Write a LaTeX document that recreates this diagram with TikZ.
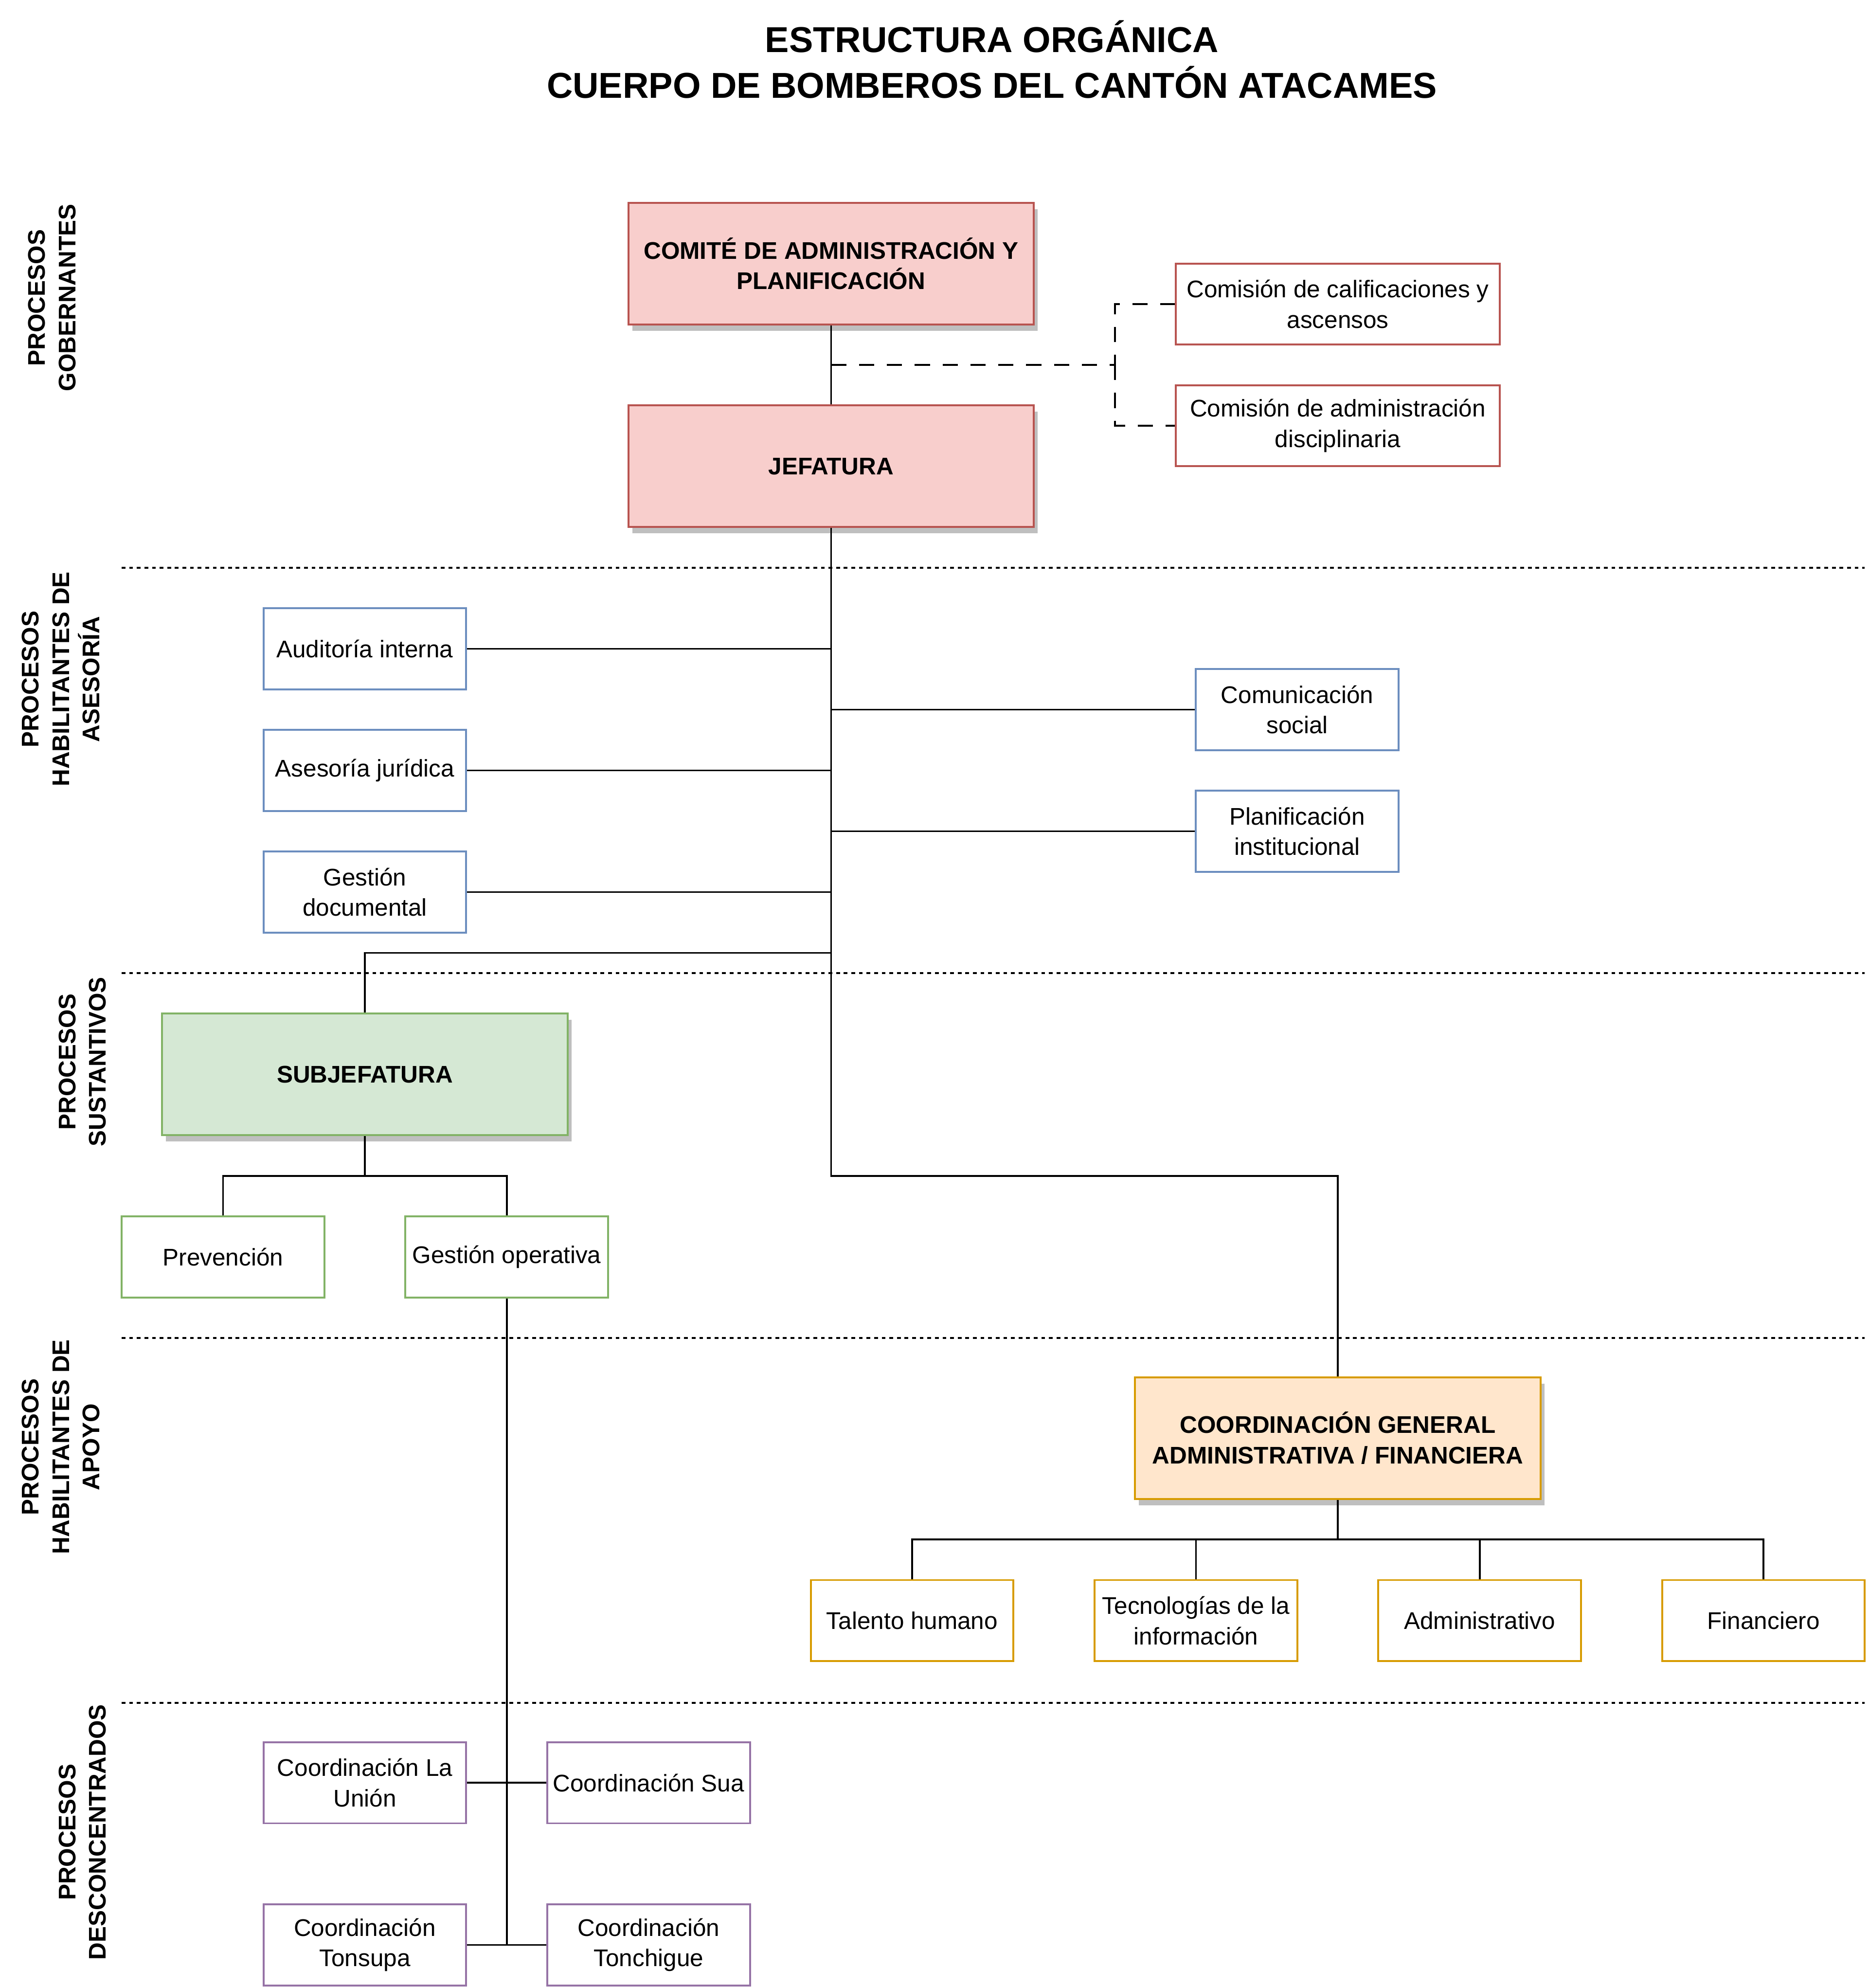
\documentclass[tikz,border=0pt]{standalone}
\usepackage{fontspec}
\setmainfont{Liberation Sans}
\usetikzlibrary{shadows}
\definecolor{redline}{HTML}{B85450}
\definecolor{redfill}{HTML}{F8CECC}
\definecolor{blueline}{HTML}{6C8EBF}
\definecolor{greenline}{HTML}{82B366}
\definecolor{greenfill}{HTML}{D5E8D4}
\definecolor{orangeline}{HTML}{D79B00}
\definecolor{orangefill}{HTML}{FFE6CC}
\definecolor{purpleline}{HTML}{9673A6}
\begin{document}
\begin{tikzpicture}[x=1pt,y=-1pt,
  box/.style={draw,line width=1.5pt,fill=white,minimum width=160pt,minimum height=64pt,inner sep=0pt,align=center,font=\fontsize{19}{24}\selectfont},
  bigbox/.style={box,minimum width=320pt,minimum height=96pt,font=\fontsize{19}{24}\selectfont\bfseries,
    drop shadow={shadow xshift=3pt,shadow yshift=-5pt,fill=black!25,opacity=1}},
  link/.style={line width=1.4pt},
  sep/.style={line width=1.6pt,dash pattern=on 3pt off 3pt},
  side/.style={rotate=90,align=center,font=\fontsize{19}{24}\selectfont\bfseries}]
\useasboundingbox (0,0) rectangle (1475,1569);

% title
\node[align=center,font=\fontsize{28.4}{36}\selectfont\bfseries] (title) at (783,47)
  {ESTRUCTURA ORGÁNICA\\CUERPO DE BOMBEROS DEL CANTÓN ATACAMES};

% process bands
\foreach \y in {448,768,1056,1344}
  \draw[sep] (96,\y) -- (1472,\y);
\node[side] (gob) at (41,235) {PROCESOS\\GOBERNANTES};
\node[side] (ase) at (48,536) {PROCESOS\\HABILITANTES DE\\ASESORÍA};
\node[side] (sus) at (65,838) {PROCESOS\\SUSTANTIVOS};
\node[side] (apo) at (48,1142) {PROCESOS\\HABILITANTES DE\\APOYO};
\node[side] (des) at (65,1446) {PROCESOS\\DESCONCENTRADOS};

% governing
\node[bigbox,draw=redline,fill=redfill] (comite) at (656,208) {COMITÉ DE ADMINISTRACIÓN Y\\PLANIFICACIÓN};
\node[bigbox,draw=redline,fill=redfill] (jefatura) at (656,368) {JEFATURA};
\node[box,draw=redline,minimum width=256pt] (calif) at (1056,240) {Comisión de calificaciones y\\ascensos};
\node[box,draw=redline,minimum width=256pt] (disc) at (1056,336) {Comisión de administración\\disciplinaria};

% advisory
\node[box,draw=blueline] (auditoria) at (288,512) {Auditoría interna};
\node[box,draw=blueline] (juridica) at (288,608) {Asesoría jurídica};
\node[box,draw=blueline] (documental) at (288,704) {Gestión\\documental};
\node[box,draw=blueline] (comunicacion) at (1024,560) {Comunicación\\social};
\node[box,draw=blueline] (planif) at (1024,656) {Planificación\\institucional};

% substantive
\node[bigbox,draw=greenline,fill=greenfill] (subjefatura) at (288,848) {SUBJEFATURA};
\node[box,draw=greenline] (prevencion) at (176,992) {Prevención};
\node[box,draw=greenline] (operativa) at (400,992) {Gestión operativa};

% support
\node[bigbox,draw=orangeline,fill=orangefill] (coordgen) at (1056,1135) {COORDINACIÓN GENERAL\\ADMINISTRATIVA / FINANCIERA};
\node[box,draw=orangeline] (talento) at (720,1279) {Talento humano};
\node[box,draw=orangeline] (tecno) at (944,1279) {Tecnologías de la\\información};
\node[box,draw=orangeline] (admin) at (1168,1279) {Administrativo};
\node[box,draw=orangeline] (financ) at (1392,1279) {Financiero};

% deconcentrated
\node[box,draw=purpleline] (launion) at (288,1407) {Coordinación La\\Unión};
\node[box,draw=purpleline] (sua) at (512,1407) {Coordinación Sua};
\node[box,draw=purpleline] (tonsupa) at (288,1535) {Coordinación\\Tonsupa};
\node[box,draw=purpleline] (tonchigue) at (512,1535) {Coordinación\\Tonchigue};

% connectors
\coordinate (gmid) at (656,288);
\coordinate (gbend) at (880,288);
\coordinate (sbend) at (656,752);
\coordinate (jbend) at (656,928);
\coordinate (sjoin) at (288,928);
\coordinate (ajoin) at (1056,1215);
\coordinate (dend) at (400,1535);
\draw[link] (comite) -- (jefatura);
\draw[link,dash pattern=on 12pt off 10pt] (gmid) -- (gbend) |- (calif.west);
\draw[link,dash pattern=on 12pt off 10pt] (gbend) |- (disc.west);
\draw[link] (jefatura.south) -- (jbend) -| (coordgen.north);
\foreach \n in {auditoria,juridica,documental}
  \draw[link] (\n.east) -- (\n -| jefatura);
\foreach \n in {comunicacion,planif}
  \draw[link] (\n.west) -- (\n -| jefatura);
\draw[link] (sbend) -| (subjefatura.north);
\draw[link] (subjefatura.south) -- (sjoin);
\draw[link] (prevencion.north) |- (sjoin) -| (operativa.north);
\draw[link] (operativa.south) -- (dend);
\draw[link] (launion.east) -- (sua.west);
\draw[link] (tonsupa.east) -- (tonchigue.west);
\draw[link] (coordgen.south) -- (ajoin);
\draw[link] (talento.north) |- (ajoin) -| (financ.north);
\foreach \n in {tecno,admin}
  \draw[link] (\n.north) -- (\n |- ajoin);
\end{tikzpicture}
\end{document}
